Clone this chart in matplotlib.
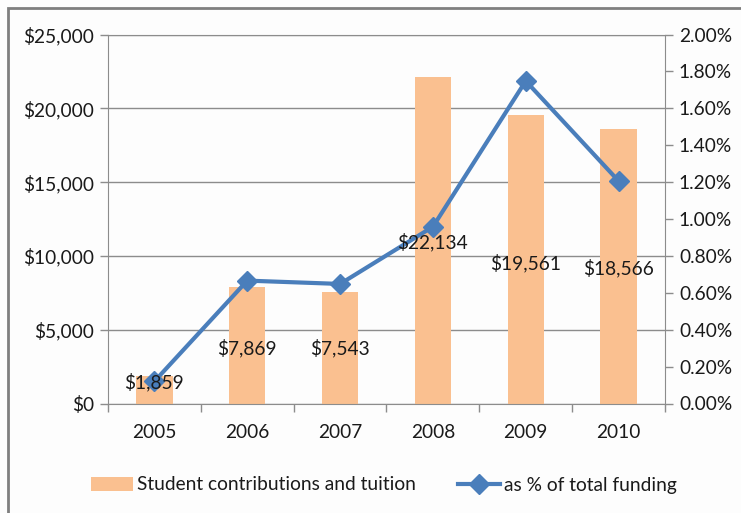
import matplotlib
matplotlib.use("Agg")
import matplotlib.pyplot as plt
import matplotlib.ticker as ticker
from matplotlib.patches import Rectangle

# データ
years = ["2005", "2006", "2007", "2008", "2009", "2010"]
contributions = [1859, 7869, 7543, 22134, 19561, 18566]
pct_of_total = [0.12, 0.666, 0.648, 0.958, 1.748, 1.206]  # %
label_y = [1460, 3760, 3760, 10960, 9520, 9180]  # ラベルの縦位置

bar_color = "#FAC090"
line_color = "#4A7EBB"
grid_color = "#8C8C8C"
text_color = "#1A1A1A"

plt.rcParams["font.family"] = ["Lato", "DejaVu Sans"]
plt.rcParams["font.size"] = 13.8

fig = plt.figure(figsize=(7.41, 5.13), dpi=100)
fig.patch.set_facecolor("#FDFDFD")
ax = fig.add_axes([108 / 741, 1 - 403.5 / 513, (665 - 108) / 741, 369 / 513])
ax.set_facecolor("#FDFDFD")

x = range(len(years))
bars = ax.bar(x, contributions, width=0.39, color=bar_color, zorder=2,
              label="Student contributions and tuition")
ax.set_xlim(-0.5, 5.5)
ax.set_ylim(0, 25000)
ax.yaxis.set_major_locator(ticker.MultipleLocator(5000))
ax.yaxis.set_major_formatter(ticker.FuncFormatter(lambda v, p: "${:,.0f}".format(v)))
ax.grid(axis="y", color=grid_color, linewidth=1.0, zorder=0)
ax.set_xticks(list(x))
ax.set_xticklabels(years)
ax.set_xticks([i - 0.5 for i in range(len(years) + 1)], minor=True)
ax.tick_params(axis="x", which="major", length=0, pad=15, colors=text_color)
ax.tick_params(axis="x", which="minor", length=6, color=grid_color, width=1)
ax.tick_params(axis="y", length=6, color=grid_color, width=1, pad=4, colors=text_color)
for s in ["left", "bottom", "top"]:
    ax.spines[s].set_color(grid_color)
ax.spines["right"].set_visible(False)

# 第2軸（割合）
ax2 = ax.twinx()
line, = ax2.plot(list(x), pct_of_total, color=line_color, linewidth=3,
                 marker="D", markersize=10, zorder=4, label="as % of total funding")
ax2.set_ylim(0, 2.0)
ax2.yaxis.set_major_locator(ticker.MultipleLocator(0.2))
ax2.yaxis.set_major_formatter(ticker.FuncFormatter(lambda v, p: "{:.2f}%".format(v)))
ax2.tick_params(axis="y", length=6, color=grid_color, width=1, pad=4, colors=text_color)
for s in ["left", "top", "bottom"]:
    ax2.spines[s].set_visible(False)
ax2.spines["right"].set_color(grid_color)
ax.set_zorder(1)
ax2.set_zorder(2)
ax2.patch.set_visible(False)

# データラベル（線より手前）
for i, v in enumerate(contributions):
    ax2.text(i, label_y[i], "${:,.0f}".format(v), ha="center", va="center",
             color=text_color, zorder=6, transform=ax.transData)

# 凡例
fig.legend(handles=[bars, line], loc="center", bbox_to_anchor=(384 / 741, 1 - 485 / 513),
           ncol=2, frameon=False, handlelength=2.2, columnspacing=2.2,
           handletextpad=0.2, labelcolor=text_color)

# 外枠
fig.patches.append(Rectangle((8 / 741, -0.1), 1.2, 1 - 8 / 513 + 0.1,
                             transform=fig.transFigure, fill=False,
                             edgecolor="#7F7F7F", linewidth=2))

fig.savefig("out.png", dpi=100, facecolor=fig.get_facecolor())
